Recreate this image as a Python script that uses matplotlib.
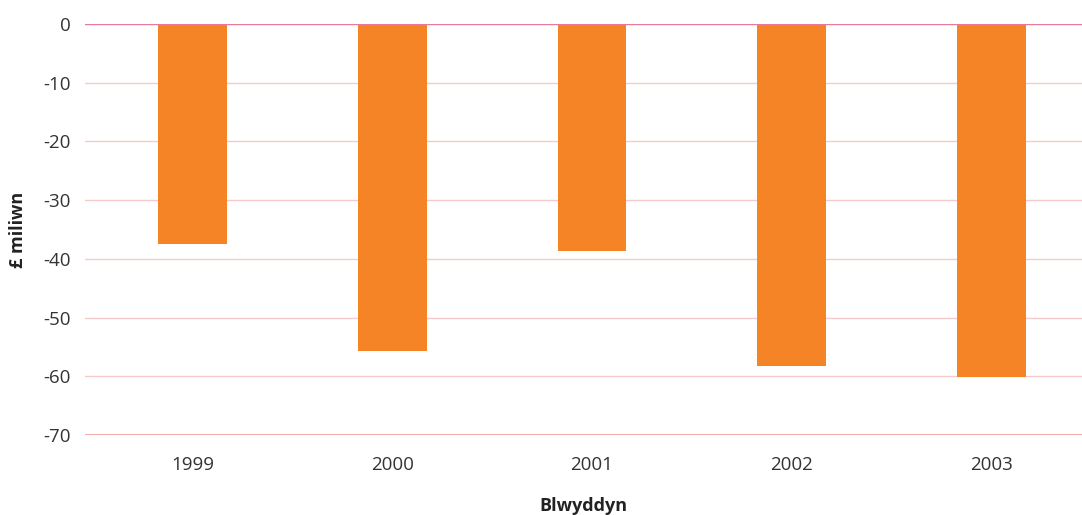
import matplotlib
matplotlib.use('Agg')
import matplotlib.pyplot as plt

years = ['1999', '2000', '2001', '2002', '2003']
values = [-37.4, -55.7, -38.6, -58.2, -60.1]
y_ticks = [0, -10, -20, -30, -40, -50, -60, -70]

plt.rcParams['font.family'] = ['Open Sans', 'DejaVu Sans']

fig = plt.figure(figsize=(10.82, 5.15), dpi=100)
ax = fig.add_axes([85 / 1082, 1 - 435 / 515, 1 - 85 / 1082, (435 - 24) / 515])

ax.bar(range(len(years)), values, width=0.345, color='#F58426', zorder=2)

# categories are slightly offset to the right inside the plot area
ax.set_xlim(-0.538, 4.453)
ax.set_ylim(-70, 0)
ax.set_yticks(y_ticks)
ax.set_yticklabels([str(t) for t in y_ticks])
ax.set_xticks(range(len(years)))
ax.set_xticklabels(years)

# Grid lines
ax.set_axisbelow(True)
ax.yaxis.grid(True, color='#F5CACA', linewidth=1)
ax.xaxis.grid(False)
ax.axhline(0, color='#E8799A', linewidth=1.6, zorder=3)
ax.axhline(-70, color='#F0A29A', linewidth=1.2, zorder=3)

for spine in ax.spines.values():
    spine.set_visible(False)

ax.tick_params(axis='both', length=0, labelsize=13.5, colors='#333333')
ax.tick_params(axis='x', pad=15)
ax.tick_params(axis='y', pad=10)

ax.set_xlabel('Blwyddyn', fontsize=13, weight='bold', color='#222222', labelpad=17)
ax.set_ylabel('£ miliwn', fontsize=13, weight='bold', color='#222222', labelpad=12)

plt.savefig('out.png', dpi=100)
plt.close()
